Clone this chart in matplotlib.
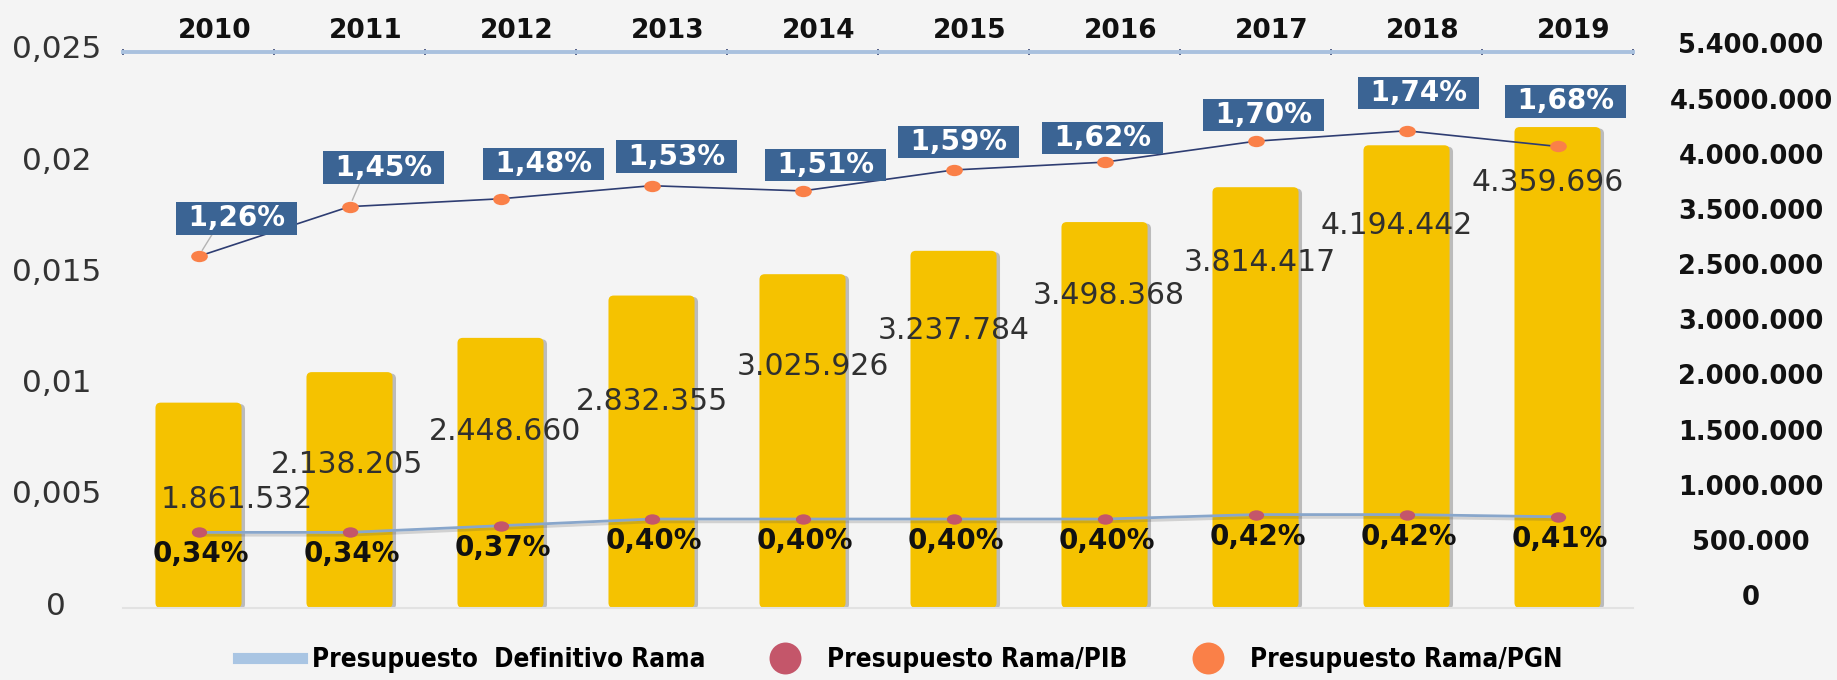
import os
import numpy as np
import matplotlib
matplotlib.use('Agg')
import matplotlib.pyplot as plt
import matplotlib.patheffects as pe
from matplotlib import font_manager as fm
from matplotlib.patches import FancyBboxPatch
from matplotlib.path import Path
from matplotlib.lines import Line2D
from matplotlib.font_manager import FontProperties
from matplotlib.transforms import Affine2D, ScaledTranslation

# ---- data ----
years = ['2010', '2011', '2012', '2013', '2014', '2015', '2016', '2017', '2018', '2019']
presupuesto = [1861532, 2138205, 2448660, 2832355, 3025926,
               3237784, 3498368, 3814417, 4194442, 4359696]
rama_pib = [0.34, 0.34, 0.37, 0.40, 0.40, 0.40, 0.40, 0.42, 0.42, 0.41]   # %
rama_pgn = [1.26, 1.45, 1.48, 1.53, 1.51, 1.59, 1.62, 1.70, 1.74, 1.68]   # %

left_ticks = [0, 0.005, 0.01, 0.015, 0.02, 0.025]
left_labels = ['0', '0,005', '0,01', '0,015', '0,02', '0,025']
right_labels = ['0', '500.000', '1.000.000', '1.500.000', '2.000.000', '3.000.000',
                '2.500.000', '3.500.000', '4.000.000', '4.5000.000', '5.400.000']
legend_labels = ['Presupuesto  Definitivo Rama', 'Presupuesto Rama/PIB', 'Presupuesto Rama/PGN']

# label placement (pixels, dx right / dy down)
bar_lbl_off = [(38, 97), (-2, 92), (5, 94), (0, 106), (10, 92),
               (0, 80), (4, 73), (4, 75), (-10, 80), (-10, 55)]
pgn_lbl_off = [(38, -38), (34, -39), (43, -35), (25, -29), (23, -26),
               (5, -28), (-2, -24), (8, -26), (12, -38), (8, -45)]
pib_lbl_off = (2, 22)

BG = '#f4f4f4'
YELLOW = '#f5c200'
NAVY_BOX = '#3b6494'
ORANGE = '#fa8048'
PIB_RED = '#c4566a'


def fmt_miles(v):
    return f'{v:,}'.replace(',', '.')


def fmt_pct(v):
    return f'{v:.2f}%'.replace('.', ',')


def narrow_bold_font():
    """first condensed bold face found on the system, else None"""
    prefs = ['liberationsansnarrow-bold.', 'dejavusanscondensed-bold.', 'robotocondensed-bold.',
             'notosans-condensedbold.', 'opensans-condensedbold.', 'opensans_condensed-bold.']
    files = [f.fname for f in fm.fontManager.ttflist]
    for p in prefs:
        for fn in files:
            if p in os.path.basename(fn).lower().replace(' ', ''):
                return fn
    for fn in files:
        b = os.path.basename(fn).lower()
        if ('condensed' in b or 'narrow' in b) and 'bold' in b and not any(
                k in b for k in ('italic', 'extra', 'semi', 'oblique')):
            return fn
    return None


# flattened dot used for the series markers
ellipse = Path.unit_circle().transformed(Affine2D().scale(1.0, 0.68))

fig = plt.figure(figsize=(18.37, 6.8), dpi=100, facecolor=BG)
base = fig.add_axes([0.06696, 0.10588, 0.8220, 0.81765], facecolor=BG)
axl = base.twinx()
axp = base.twinx()
base.yaxis.tick_right()
axl.yaxis.tick_left()

x = np.arange(len(years))

# ---- bars (right scale) ----
base.set_xlim(-0.5, len(years) - 0.5)
base.set_ylim(0, 5.04e6)
bars = base.bar(x, presupuesto, width=0.57, color=YELLOW, zorder=2)
for b in bars:
    bx, by = b.get_xy()
    rb = FancyBboxPatch((bx, by), b.get_width(), b.get_height(),
                        boxstyle='round,pad=0,rounding_size=0.035',
                        mutation_aspect=1.37e6, fc=YELLOW, ec='none', zorder=2,
                        path_effects=[pe.SimplePatchShadow(offset=(2.5, -1), shadow_rgbFace='#8c8c8c', alpha=0.55),
                                      pe.Normal()])
    base.add_patch(rb)
    b.remove()

for i, v in enumerate(presupuesto):
    dx, dy = bar_lbl_off[i]
    base.annotate(fmt_miles(v), xy=(i, v), xytext=(dx, -dy), textcoords='offset pixels',
                  ha='center', va='center', fontsize=21.5, color='#303030', zorder=5)

base.set_yticks(np.arange(11) * 500000)
base.set_yticklabels(right_labels, fontsize=18.5, fontweight='bold', color='#111111')
base.tick_params(axis='y', length=0, pad=85)
up13 = ScaledTranslation(0, 13 / 100, fig.dpi_scale_trans)
for lbl in base.get_yticklabels():
    lbl.set_horizontalalignment('center')
    lbl.set_transform(lbl.get_transform() + up13)

# years on top, tick marks between categories
base.xaxis.tick_top()
base.set_xticks(x)
base.set_xticklabels(years, fontsize=19, fontweight='bold', color='#111111')
base.set_xticks(np.arange(-0.5, len(years), 1.0), minor=True)
base.tick_params(axis='x', which='major', length=0, pad=6)
base.tick_params(axis='x', which='minor', length=5, width=1.2, direction='inout', color='#3c4a78')
right16 = ScaledTranslation(16 / 100, 0, fig.dpi_scale_trans)
for lbl in base.get_xticklabels():
    lbl.set_transform(lbl.get_transform() + right16)

for s in ['left', 'right']:
    base.spines[s].set_visible(False)
base.spines['top'].set_color('#a9c1de')
base.spines['top'].set_linewidth(2.8)
base.spines['bottom'].set_color('#e2e2e2')
base.spines['bottom'].set_linewidth(1.5)

# ---- Rama/PIB (left scale) ----
axl.set_ylim(0, 0.025)
pib = np.array(rama_pib) / 100
axl.plot(x, pib, color='#88a6cb', lw=2.0, zorder=3,
         path_effects=[pe.SimpleLineShadow(offset=(0, -2), shadow_color='#555555', alpha=0.22), pe.Normal()])
axl.plot(x, pib, ls='none', marker=ellipse, ms=11, mfc=PIB_RED, mec='none', zorder=4)
for i, v in enumerate(rama_pib):
    axl.annotate(fmt_pct(v), xy=(i, pib[i]), xytext=(pib_lbl_off[0], -pib_lbl_off[1]),
                 textcoords='offset pixels', ha='center', va='center',
                 fontsize=20, fontweight='bold', color='#111111', zorder=5)

axl.set_yticks(left_ticks)
axl.set_yticklabels(left_labels, fontsize=22.5, color='#333333')
axl.tick_params(axis='y', length=0, pad=48)
up5 = ScaledTranslation(0, 5 / 100, fig.dpi_scale_trans)
for lbl in axl.get_yticklabels():
    lbl.set_horizontalalignment('center')
    lbl.set_transform(lbl.get_transform() + up5)
for s in axl.spines.values():
    s.set_visible(False)

# ---- Rama/PGN (own hidden scale) ----
axp.set_ylim(-0.084, 2.041)
axp.plot(x, rama_pgn, color='#2e3d72', lw=1.2, zorder=3)
axp.plot(x, rama_pgn, ls='none', marker=ellipse, ms=12, mfc=ORANGE, mec='none', zorder=4)
for i, v in enumerate(rama_pgn):
    dx, dy = pgn_lbl_off[i]
    arrow = None
    if i < 2:
        arrow = dict(arrowstyle='-', color='#b4b4b4', lw=1, relpos=(0.3, 0), shrinkA=0, shrinkB=5)
    axp.annotate(' ' + fmt_pct(v) + ' ', xy=(i, v), xytext=(dx, -dy), textcoords='offset pixels',
                 ha='center', va='center', fontsize=20, fontweight='bold', color='white',
                 bbox=dict(boxstyle='square,pad=0.08', fc=NAVY_BOX, ec='none'),
                 arrowprops=arrow, zorder=6)
axp.yaxis.set_visible(False)
for s in axp.spines.values():
    s.set_visible(False)

# ---- legend (condensed bold, sized so the last label is ~312 px wide) ----
fn = narrow_bold_font()
if fn:
    leg_fp = FontProperties(fname=fn, size=23.5)
else:
    leg_fp = FontProperties(family='DejaVu Sans', weight='bold', size=23.5)
renderer = fig.canvas.get_renderer()
probe = fig.text(0, 0, legend_labels[2], fontproperties=leg_fp)
w = probe.get_window_extent(renderer).width
probe.remove()
leg_fp.set_size(23.5 * 312 / w)
em = leg_fp.get_size_in_points() * 100 / 72

handles = [Line2D([], [], color='#a9c5e3', lw=8),
           Line2D([], [], ls='none', marker='o', ms=23, mfc=PIB_RED, mec='none'),
           Line2D([], [], ls='none', marker='o', ms=23, mfc=ORANGE, mec='none')]
fig.legend(handles, legend_labels, loc='center', bbox_to_anchor=(900 / 1837, 20 / 680), ncol=3,
           frameon=False, handlelength=64 / em, handletextpad=10 / em, columnspacing=48 / em,
           prop=leg_fp)

fig.savefig('out.png', dpi=100, facecolor=BG)
